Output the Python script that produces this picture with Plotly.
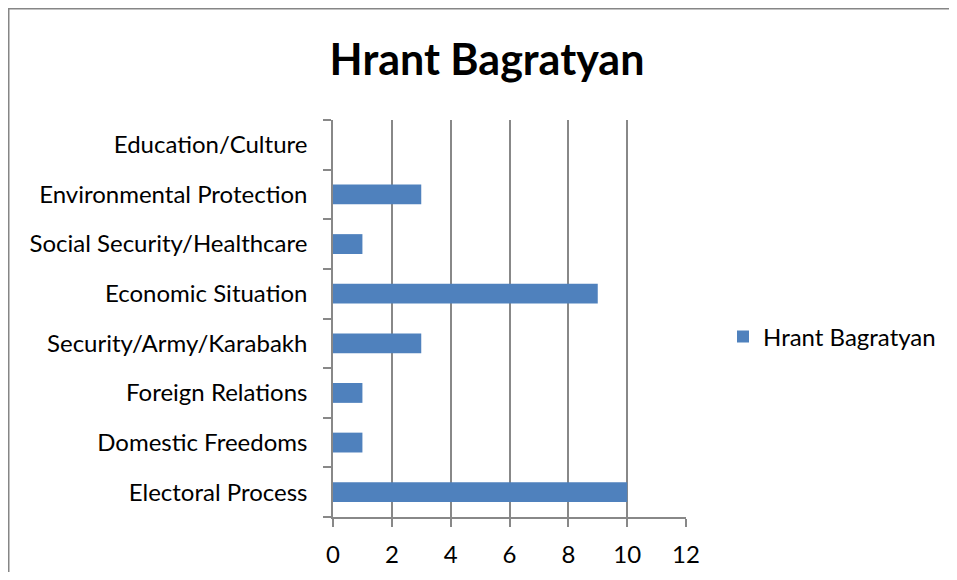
import plotly.graph_objects as go

categories = ["Electoral Process", "Domestic Freedoms", "Foreign Relations",
              "Security/Army/Karabakh", "Economic Situation",
              "Social Security/Healthcare", "Environmental Protection",
              "Education/Culture"]
values = [10, 1, 1, 3, 9, 1, 3, 0]
series_name = "Hrant Bagratyan"
x_ticks = [0, 2, 4, 6, 8, 10, 12]

# page body has an 8px margin; figure is sized to fit inside the window
W, H = 941, 564
OFF = 8
L = 333 - OFF
R = W - (686 - OFF)
T = 120 - OFF
B = H - (517 - OFF)
pw, ph = W - L - R, H - T - B

fig = go.Figure(go.Bar(
    y=categories, x=values, orientation="h", name=series_name,
    marker=dict(color="#4F81BD", line=dict(width=0)),
    showlegend=True,
))

grid = "#888888"
fs = 24
fig.update_layout(
    width=W, height=H,
    margin=dict(l=L, r=R, t=T, b=B, autoexpand=False),
    paper_bgcolor="white", plot_bgcolor="white",
    font=dict(family="Lato", size=fs, color="#000000"),
    bargap=0.6,
    title=dict(text="<b>Hrant Bagratyan</b>", x=(487 - OFF) / W, xanchor="center",
               y=1 - (60 - OFF) / H, yanchor="middle",
               font=dict(family="Lato", size=43, color="#000000")),
    xaxis=dict(range=[0, 12], tickvals=x_ticks, showgrid=True, gridcolor=grid,
               gridwidth=1.5, showline=True, linecolor=grid, linewidth=1.5,
               ticks="outside", ticklen=8, tickcolor=grid, tickwidth=1.5,
               ticklabelstandoff=7,
               zeroline=False, fixedrange=True),
    yaxis=dict(categoryorder="array", categoryarray=categories,
               showline=True, linecolor=grid, linewidth=1.5,
               ticks="outside", tickson="boundaries", ticklen=8,
               tickcolor=grid, tickwidth=1.5, showgrid=False,
               ticklabelstandoff=19,
               fixedrange=True),
    legend=dict(x=(723 - OFF - L) / pw, xanchor="left",
                y=(517 - 337) / ph, yanchor="middle",
                font=dict(family="Lato", size=fs),
                bgcolor="rgba(0,0,0,0)"),
    shapes=[dict(type="rect", xref="paper", yref="paper",
                 x0=(0.75 - L) / pw, x1=2.0, y0=-0.5,
                 y1=(ph + T - 0.75) / ph,
                 line=dict(color="#868686", width=1.5), layer="below")],
)

fig.write_html("out.html")
